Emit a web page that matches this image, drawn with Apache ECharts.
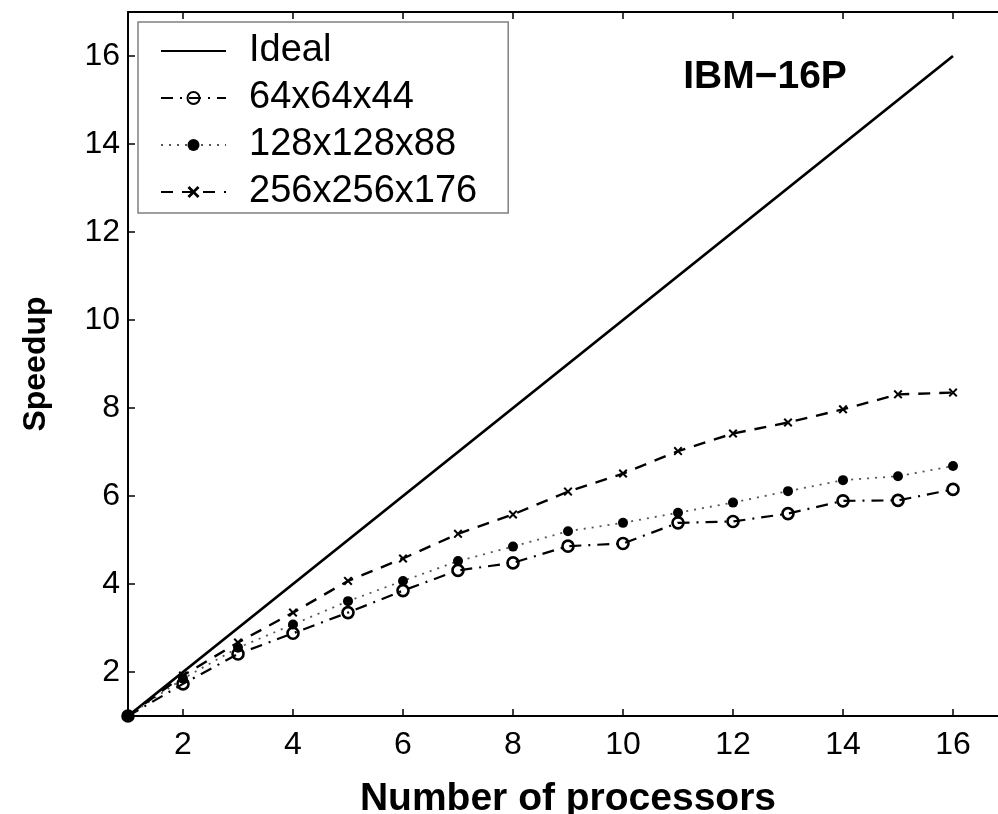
<!DOCTYPE html>
<html>
<head>
<meta charset="utf-8">
<script src="https://cdn.jsdelivr.net/npm/echarts@6/dist/echarts.min.js"></script>
<style>
  html, body { margin: 0; padding: 0; background: #fff; }
  #chart { width: 998px; height: 814px; }
</style>
</head>
<body>
<div id="chart"></div>
<script>
// Speedup measurements on the IBM machine (1..16 processors)
const processors = [1, 2, 3, 4, 5, 6, 7, 8, 9, 10, 11, 12, 13, 14, 15, 16];
const ideal      = [1, 2, 3, 4, 5, 6, 7, 8, 9, 10, 11, 12, 13, 14, 15, 16];
const grid64     = [1, 1.73, 2.41, 2.88, 3.35, 3.85, 4.31, 4.48, 4.86, 4.92, 5.39, 5.42, 5.60, 5.89, 5.90, 6.15];
const grid128    = [1, 1.85, 2.55, 3.08, 3.61, 4.07, 4.52, 4.85, 5.20, 5.39, 5.62, 5.85, 6.11, 6.36, 6.45, 6.68];
const grid256    = [1, 1.92, 2.67, 3.35, 4.07, 4.58, 5.14, 5.58, 6.10, 6.51, 7.02, 7.42, 7.67, 7.97, 8.31, 8.35];
const seriesNames = ['Ideal', '64x64x44', '128x128x88', '256x256x176'];
const xTicks = [2, 4, 6, 8, 10, 12, 14, 16];
const yTicks = [2, 4, 6, 8, 10, 12, 14, 16];

const FONT = '"Liberation Sans", Arial, Helvetica, sans-serif';
const pairs = (ys) => processors.map((x, i) => [x, ys[i]]);

// filled "x" marker
const crossPath = 'path://M0,1.6 L1.6,0 L5,3.4 L8.4,0 L10,1.6 L6.6,5 L10,8.4 L8.4,10 L5,6.6 L1.6,10 L0,8.4 L3.4,5 Z';

const axisLineStyle = { color: '#000', width: 2 };

// legend entries; the ideal curve has no marker, so its legend symbol is hidden
const legendData = seriesNames.map((name, i) =>
  i === 0 ? { name, itemStyle: { color: 'rgba(0,0,0,0)', borderWidth: 0, opacity: 0 } } : { name });

const chart = echarts.init(document.getElementById('chart'), null, { renderer: 'canvas' });

chart.setOption({
  backgroundColor: '#fff',
  animation: false,
  grid: { left: 128, top: 12, width: 880, height: 704, outerBoundsMode: 'none' },
  xAxis: [
    {
      type: 'value', position: 'bottom', min: 1, max: 17,
      name: 'Number of processors', nameLocation: 'middle', nameGap: 64,
      nameTextStyle: { fontFamily: FONT, fontSize: 39, fontWeight: 'bold', color: '#000' },
      axisLine: { lineStyle: axisLineStyle },
      axisTick: { inside: true, length: 7, customValues: xTicks, lineStyle: { color: '#000', width: 1.5 } },
      axisLabel: { customValues: xTicks, margin: 13, fontFamily: FONT, fontSize: 32, color: '#000' },
      splitLine: { show: false }
    },
    {
      type: 'value', position: 'top', min: 1, max: 17,
      axisLine: { lineStyle: axisLineStyle },
      axisTick: { inside: true, length: 7, customValues: xTicks, lineStyle: { color: '#000', width: 1.5 } },
      axisLabel: { show: false },
      splitLine: { show: false }
    }
  ],
  yAxis: [
    {
      type: 'value', position: 'left', min: 1, max: 17,
      name: 'Speedup', nameLocation: 'middle', nameGap: 76,
      nameTextStyle: { fontFamily: FONT, fontSize: 32, fontWeight: 'bold', color: '#000' },
      axisLine: { lineStyle: axisLineStyle },
      axisTick: { inside: true, length: 7, customValues: yTicks, lineStyle: { color: '#000', width: 1.5 } },
      axisLabel: { customValues: yTicks, margin: 8, fontFamily: FONT, fontSize: 32, color: '#000' },
      splitLine: { show: false }
    }
  ],
  legend: {
    orient: 'vertical',
    left: 138, top: 22,
    padding: [10, 31, 2, 22],
    backgroundColor: '#fff',
    borderColor: '#808080', borderWidth: 1.5, borderRadius: 0,
    itemWidth: 65, itemHeight: 15, itemGap: 9,
    data: legendData,
    textStyle: { fontFamily: FONT, fontSize: 38, color: '#000', padding: [0, 0, 0, 18] }
  },
  graphic: [
    {
      type: 'text',
      style: {
        x: 765, y: 77, text: 'IBM\u221216P', textAlign: 'center', textVerticalAlign: 'middle',
        font: 'bold 39px ' + FONT, fill: '#000'
      }
    }
  ],
  series: [
    {
      name: seriesNames[0], type: 'line', data: pairs(ideal),
      symbol: 'none', z: 2,
      lineStyle: { color: '#000', width: 2.8, type: 'solid' },
      itemStyle: { color: '#000' }
    },
    {
      name: seriesNames[1], type: 'line', data: pairs(grid64),
      symbol: 'circle', symbolSize: 11, z: 3,
      lineStyle: { color: '#000', width: 2.2, type: [12, 7, 2, 7] },
      itemStyle: { color: 'rgba(0,0,0,0)', borderColor: '#000', borderWidth: 2.6 }
    },
    {
      name: seriesNames[2], type: 'line', data: pairs(grid128),
      symbol: 'circle', symbolSize: 10, z: 4,
      lineStyle: { color: '#555', width: 1.8, type: [2, 6] },
      itemStyle: { color: '#000' }
    },
    {
      name: seriesNames[3], type: 'line', data: pairs(grid256),
      symbol: crossPath, symbolSize: 9, z: 5,
      lineStyle: { color: '#000', width: 2.4, type: [12, 9] },
      itemStyle: { color: '#000' }
    }
  ]
});
</script>
</body>
</html>
